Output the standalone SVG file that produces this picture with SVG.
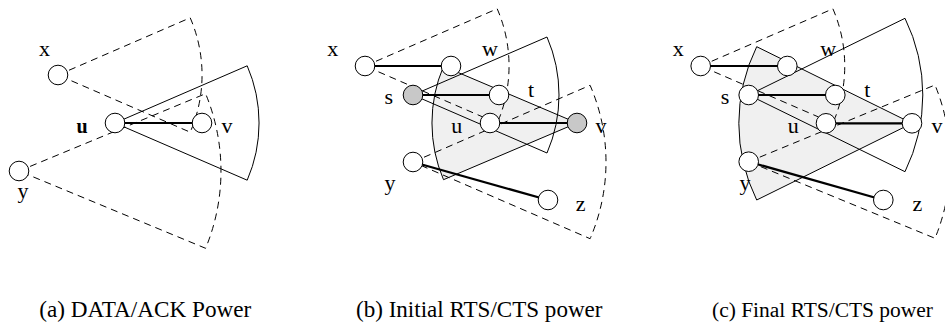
<svg xmlns="http://www.w3.org/2000/svg" width="945" height="329" viewBox="0 0 945 329">
<style>
.sec{fill:none;stroke:#000;stroke-width:1}
.shade{fill:#f0f0f0;stroke:#000;stroke-width:1}
.dash{fill:none;stroke:#000;stroke-width:1;stroke-dasharray:7,5}
.edge{stroke:#000;stroke-width:2.2;fill:none}
.n{fill:#fff;stroke:#000;stroke-width:1}
.g{fill:#c8c8c8;stroke:#000;stroke-width:1}
.lb{font-family:"Liberation Serif","Times New Roman",serif;font-size:22px;text-anchor:middle;fill:#000}
.bd{font-weight:bold;font-size:20px}
.cap{font-family:"Liberation Serif","Times New Roman",serif;font-size:23px;fill:#000}
</style>
<g id="ranges">
  <!-- panel a -->
  <path class="sec" d="M115,123 L247.2,65.8 A144,144 0 0 1 247.2,180.2 Z"/>
  <path class="dash" d="M58,75 L190.2,17.8 A144,144 0 0 1 190.2,132.2 Z"/>
  <path class="dash" d="M19,171 L205.6,93.7 A202,202 0 0 1 205.6,248.3 Z"/>
  <!-- panel b -->
  <path class="shade" d="M577,123 L443.5,179.7 A145,145 0 0 1 443.5,66.3 Z"/>
  <path class="dash" d="M365,66 L497.2,8.8 A144,144 0 0 1 497.2,123.2 Z"/>
  <path class="sec" d="M413,95 L547,37 A146,146 0 0 1 547,153 Z"/>
  <path class="dash" d="M413,162 L590.1,85.3 A193,193 0 0 1 590.1,238.7 Z"/>
  <!-- panel c -->
  <path class="shade" d="M912,123.3 L756.7,200 A173.2,173.2 0 0 1 756.7,46.7 Z"/>
  <path class="dash" d="M700.7,66 L832.9,8.8 A144,144 0 0 1 832.9,123.2 Z"/>
  <path class="sec" d="M748.7,95 L905,18.3 A174.1,174.1 0 0 1 905,171.7 Z"/>
  <path class="dash" d="M748.7,161.7 L935,85 A201.5,201.5 0 0 1 935,238.3 Z"/>
</g>
<g id="connectors">
  <line class="edge" x1="115" y1="123" x2="202" y2="123"/>
  <line class="edge" x1="365" y1="66" x2="451" y2="66"/>
  <line class="edge" x1="413" y1="95" x2="499" y2="95"/>
  <line class="edge" x1="490" y1="123" x2="577" y2="123"/>
  <line class="edge" x1="413" y1="162" x2="548" y2="200"/>
  <line class="edge" x1="700.7" y1="66" x2="787.3" y2="66"/>
  <line class="edge" x1="748.7" y1="95" x2="835.3" y2="95"/>
  <line class="edge" x1="826" y1="123.3" x2="912" y2="123.3"/>
  <line class="edge" x1="748.7" y1="161.7" x2="883.3" y2="200"/>
</g>
<!-- panel a nodes -->
<g id="a-x"><circle class="n" cx="58" cy="75" r="9.8"/><text class="lb" x="44.5" y="55.7">x</text></g>
<g id="a-u"><circle class="n" cx="115" cy="123" r="9.8"/><text class="lb bd" x="82" y="132.7">u</text></g>
<g id="a-v"><circle class="n" cx="202" cy="123" r="9.8"/><text class="lb" x="227" y="132.7">v</text></g>
<g id="a-y"><circle class="n" cx="19" cy="171" r="9.8"/><text class="lb" x="23" y="198">y</text></g>
<!-- panel b nodes -->
<g id="b-x"><circle class="n" cx="365" cy="66" r="9.8"/><text class="lb" x="332.7" y="55.7">x</text></g>
<g id="b-w"><circle class="n" cx="451" cy="66" r="9.8"/><text class="lb" x="490" y="56">w</text></g>
<g id="b-s"><circle class="g" cx="413" cy="95" r="9.8"/><text class="lb" x="388.7" y="104.3">s</text></g>
<g id="b-t"><circle class="n" cx="499" cy="95" r="9.8"/><text class="lb" x="531" y="96.7">t</text></g>
<g id="b-u"><circle class="n" cx="490" cy="123" r="9.8"/><text class="lb" x="456.7" y="132.7">u</text></g>
<g id="b-v"><circle class="g" cx="577" cy="123" r="9.8"/><text class="lb" x="601" y="132.7">v</text></g>
<g id="b-y"><circle class="n" cx="413" cy="162" r="9.8"/><text class="lb" x="390" y="190">y</text></g>
<g id="b-z"><circle class="n" cx="548" cy="200" r="9.8"/><text class="lb" x="580.7" y="210.7">z</text></g>
<!-- panel c nodes -->
<g id="c-x"><circle class="n" cx="700.7" cy="66" r="9.8"/><text class="lb" x="678.3" y="55.7">x</text></g>
<g id="c-w"><circle class="n" cx="787.3" cy="66" r="9.8"/><text class="lb" x="828.3" y="56">w</text></g>
<g id="c-s"><circle class="n" cx="748.7" cy="95" r="9.8"/><text class="lb" x="725" y="104.3">s</text></g>
<g id="c-t"><circle class="n" cx="835.3" cy="95" r="9.8"/><text class="lb" x="867.3" y="96.7">t</text></g>
<g id="c-u"><circle class="n" cx="826" cy="123.3" r="9.8"/><text class="lb" x="793.3" y="132.7">u</text></g>
<g id="c-v"><circle class="n" cx="912" cy="123.3" r="9.8"/><text class="lb" x="937" y="132.7">v</text></g>
<g id="c-y"><circle class="n" cx="748.7" cy="161.7" r="9.8"/><text class="lb" x="745" y="190">y</text></g>
<g id="c-z"><circle class="n" cx="883.3" cy="200" r="9.8"/><text class="lb" x="917.5" y="210.7">z</text></g>
<g id="captions">
  <text class="cap" x="39.3" y="316.7" textLength="212" lengthAdjust="spacingAndGlyphs">(a) DATA/ACK Power</text>
  <text class="cap" x="356" y="316.7" textLength="246.5" lengthAdjust="spacingAndGlyphs">(b) Initial RTS/CTS power</text>
  <text class="cap" x="712" y="316.7" style="font-size:21.3px" textLength="221" lengthAdjust="spacingAndGlyphs">(c) Final RTS/CTS power</text>
</g>
</svg>
